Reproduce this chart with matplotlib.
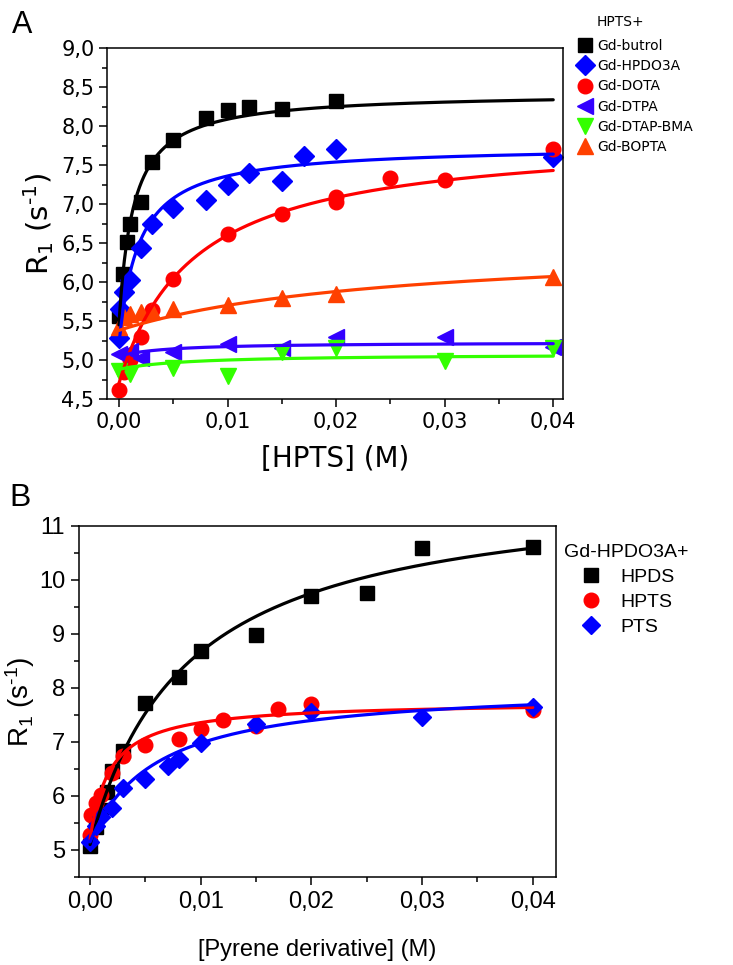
import numpy as np
import matplotlib
matplotlib.use("Agg")
import matplotlib.pyplot as plt
from matplotlib.ticker import MultipleLocator, FuncFormatter
from matplotlib.lines import Line2D

plt.rcParams['mathtext.default'] = 'regular'

# ---------------- Panel A data : HPTS + Gd complexes ----------------
butrol_x = [0, 0.0004, 0.0007, 0.001, 0.002, 0.003, 0.005, 0.008, 0.01, 0.012, 0.015, 0.02]
butrol_y = [5.57, 6.10, 6.51, 6.75, 7.02, 7.54, 7.82, 8.10, 8.20, 8.24, 8.22, 8.32]

hpdo3a_x = [0, 0.0001, 0.0005, 0.001, 0.002, 0.003, 0.005, 0.008, 0.01, 0.012, 0.015, 0.017, 0.02, 0.04]
hpdo3a_y = [5.28, 5.65, 5.87, 6.02, 6.43, 6.74, 6.95, 7.05, 7.24, 7.40, 7.30, 7.62, 7.70, 7.60]

dota_x = [0, 0.0005, 0.001, 0.002, 0.003, 0.005, 0.01, 0.015, 0.02, 0.02, 0.025, 0.03, 0.04]
dota_y = [4.62, 4.84, 5.00, 5.29, 5.64, 6.04, 6.62, 6.87, 7.03, 7.09, 7.33, 7.31, 7.71]

dtpa_x = [0, 0.001, 0.002, 0.005, 0.01, 0.015, 0.02, 0.03, 0.04]
dtpa_y = [5.08, 5.12, 5.03, 5.10, 5.20, 5.16, 5.29, 5.30, 5.17]

dtpabma_x = [0, 0.001, 0.005, 0.01, 0.015, 0.02, 0.03, 0.04]
dtpabma_y = [4.86, 4.82, 4.90, 4.80, 5.10, 5.16, 4.99, 5.16]

bopta_x = [0, 0.0005, 0.001, 0.002, 0.003, 0.005, 0.01, 0.015, 0.02, 0.04]
bopta_y = [5.42, 5.55, 5.59, 5.61, 5.63, 5.65, 5.70, 5.80, 5.85, 6.06]

# fitted binding curves: [R0, dR, K]  (R = R0 + dR*x/(K+x))
butrol_fit = [5.45, 2.98, 0.0013]
hpdo3a_fit = [5.20, 2.55, 0.00181]
dota_fit = [4.70, 3.196, 0.00683]
dtpa_fit = [5.05, 0.178, 0.0046]
dtpabma_fit = [4.88, 0.197, 0.00645]
bopta_fit = [5.38, 1.123, 0.02508]

labels_A = ["Gd-butrol", "Gd-HPDO3A", "Gd-DOTA", "Gd-DTPA", "Gd-DTAP-BMA", "Gd-BOPTA"]

# ---------------- Panel B data : Gd-HPDO3A + pyrene derivatives ----------------
hpds_x = [0, 0.0005, 0.001, 0.0015, 0.002, 0.003, 0.005, 0.008, 0.01, 0.015, 0.02, 0.025, 0.03, 0.04]
hpds_y = [5.08, 5.43, 5.74, 6.08, 6.46, 6.83, 7.73, 8.21, 8.69, 8.98, 9.70, 9.76, 10.60, 10.61]

pts_x = [0, 0.0005, 0.001, 0.002, 0.003, 0.005, 0.007, 0.008, 0.01, 0.015, 0.02, 0.03, 0.04]
pts_y = [5.15, 5.45, 5.62, 5.77, 6.14, 6.31, 6.56, 6.69, 6.99, 7.34, 7.55, 7.46, 7.64]

hpds_fit = [5.10, 6.69, 0.00874]
pts_fit = [5.15, 2.917, 0.00594]

labels_B = ["HPDS", "HPTS", "PTS"]

# ---------------------------------------------------------------
BLACK = "#000000"
BLUE = "#0000ff"
RED = "#ff0000"
VIOLET = "#3300ff"
GREEN = "#33ff00"
ORANGE = "#ff4000"

fig = plt.figure(figsize=(7.33, 9.65), dpi=100)

def curve(ax, p, color, lw=2.3):
    xs = np.linspace(0, 0.04, 400)
    ax.plot(xs, p[0] + p[1] * xs / (p[2] + xs), color=color, lw=lw, zorder=3,
            solid_capstyle='round')

YLAB = "R$_1$ (s$^{\u2010 1}$)"

# ---------------- Panel A ----------------
axA = fig.add_axes([107 / 733, 1 - 399 / 965, 456 / 733, 351 / 965])
series_A = [
    (butrol_x, butrol_y, butrol_fit, BLACK, 's', 10.0),
    (hpdo3a_x, hpdo3a_y, hpdo3a_fit, BLUE, 'D', 10.0),
    (dota_x, dota_y, dota_fit, RED, 'o', 10.5),
    (dtpa_x, dtpa_y, dtpa_fit, VIOLET, '<', 11.5),
    (dtpabma_x, dtpabma_y, dtpabma_fit, GREEN, 'v', 11.5),
    (bopta_x, bopta_y, bopta_fit, ORANGE, '^', 11.5),
]
handles_A = []
for (xs, ys, p, c, m, ms), lab in zip(series_A, labels_A):
    axA.plot(xs, ys, linestyle='none', marker=m, ms=ms, color=c, mec=c, zorder=2)
    curve(axA, p, c)
    handles_A.append(Line2D([], [], linestyle='none', marker=m, ms=ms, color=c, mec=c, label=lab))

axA.set_xlim(-0.0011, 0.0409)
axA.set_ylim(4.5, 9.0)
axA.xaxis.set_major_locator(MultipleLocator(0.01))
axA.xaxis.set_minor_locator(MultipleLocator(0.005))
axA.yaxis.set_major_locator(MultipleLocator(0.5))
axA.yaxis.set_minor_locator(MultipleLocator(0.25))
axA.xaxis.set_major_formatter(FuncFormatter(lambda v, p: f"{v:.2f}".replace('.', ',')))
axA.yaxis.set_major_formatter(FuncFormatter(lambda v, p: f"{v:.1f}".replace('.', ',')))
axA.tick_params(which='major', direction='out', length=6, width=1.1, labelsize=15, pad=3)
axA.tick_params(which='minor', direction='out', length=3.5, width=1.1)
for lab in axA.get_xticklabels() + axA.get_yticklabels():
    lab.set_family('DejaVu Sans')
for s in axA.spines.values():
    s.set_linewidth(1.1)
axA.set_xlabel("[HPTS] (M)", fontsize=20, family='DejaVu Sans', labelpad=10)
axA.set_ylabel(YLAB, fontsize=21, family='DejaVu Sans', labelpad=4)

fig.legend(handles=handles_A, loc='upper left', bbox_to_anchor=(579 / 733, 1 - 39 / 965),
           frameon=False, prop={'family': 'DejaVu Sans', 'size': 10},
           handlelength=0.8, handletextpad=0.5, labelspacing=0.45, borderpad=0,
           borderaxespad=0)
fig.text(597 / 733, 1 - 22 / 965, "HPTS+", fontsize=10, family='DejaVu Sans',
         ha='left', va='center')

fig.text(12 / 733, 1 - 33 / 965, "A", fontsize=22, family='Liberation Sans', ha='left', va='baseline')

# ---------------- Panel B ----------------
axB = fig.add_axes([79 / 733, 1 - 877 / 965, 477 / 733, 351 / 965])
series_B = [
    (hpds_x, hpds_y, hpds_fit, BLACK, 's', 9.5),
    (hpdo3a_x, hpdo3a_y, hpdo3a_fit, RED, 'o', 10.5),
    (pts_x, pts_y, pts_fit, BLUE, 'D', 9.5),
]
handles_B = []
for (xs, ys, p, c, m, ms), lab in zip(series_B, labels_B):
    axB.plot(xs, ys, linestyle='none', marker=m, ms=ms, color=c, mec=c, zorder=2)
    handles_B.append(Line2D([], [], linestyle='none', marker=m, ms=ms, color=c, mec=c, label=lab))
for (xs, ys, p, c, m, ms) in series_B:
    curve(axB, p, c)

axB.set_xlim(-0.001, 0.0421)
axB.set_ylim(4.5, 11)
axB.xaxis.set_major_locator(MultipleLocator(0.01))
axB.xaxis.set_minor_locator(MultipleLocator(0.005))
axB.yaxis.set_major_locator(MultipleLocator(1))
axB.yaxis.set_minor_locator(MultipleLocator(0.5))
axB.xaxis.set_major_formatter(FuncFormatter(lambda v, p: f"{v:.2f}".replace('.', ',')))
axB.yaxis.set_major_formatter(FuncFormatter(lambda v, p: f"{v:.0f}"))
axB.tick_params(which='major', direction='out', length=6, width=1.1, labelsize=17, pad=4)
axB.tick_params(which='minor', direction='out', length=3.5, width=1.1)
for lab in axB.get_xticklabels() + axB.get_yticklabels():
    lab.set_family('Liberation Sans')
for s in axB.spines.values():
    s.set_linewidth(1.1)
axB.set_xlabel("[Pyrene derivative] (M)", fontsize=17, family='Liberation Sans', labelpad=19)
axB.set_ylabel(YLAB, fontsize=20, family='Liberation Sans', labelpad=1)

fig.legend(handles=handles_B, loc='upper left', bbox_to_anchor=(564 / 733, 1 - 544 / 965),
           frameon=False, prop={'family': 'Liberation Sans', 'size': 14},
           handlelength=2.8, handletextpad=0.1, labelspacing=0.38, borderpad=0,
           borderaxespad=0,
           title="Gd-HPDO3A+", title_fontproperties={'family': 'Liberation Sans', 'size': 14},
           alignment='left')

fig.text(9 / 733, 1 - 506 / 965, "B", fontsize=23, family='Liberation Sans', ha='left', va='baseline')

fig.savefig("out.png", dpi=100)
